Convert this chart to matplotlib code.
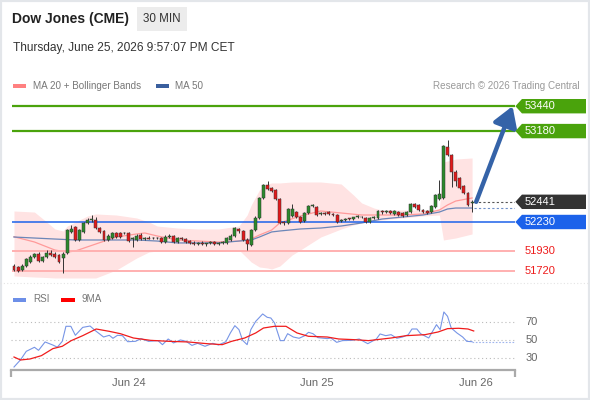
import matplotlib
matplotlib.use("Agg")
import matplotlib.pyplot as plt
from matplotlib.patches import Rectangle, Polygon, FancyArrowPatch
from matplotlib.lines import Line2D

plt.rcParams["font.family"] = ["Liberation Sans", "DejaVu Sans"]

# 30 min candles
opens = [51770, 51760, 51730, 51770, 51815, 51860, 51895, 51825, 51860, 51910,
         51900, 51880, 51850, 51906, 52130, 52175, 52042, 52126, 52220, 52250,
         52251, 52170, 52140, 52042, 52063, 52115, 52120, 52110, 52115, 52050,
         52042, 52094, 52055, 52065, 52058, 52066, 52063, 52021, 52073, 52080,
         52021, 52060, 52052, 52030, 52011, 52000, 52015, 51998, 52008, 52020,
         51995, 52015, 52011, 52042, 52084, 52157, 52136, 52042, 51990, 52146,
         52272, 52481, 52617, 52585, 52564, 52470, 52225, 52220, 52290, 52334,
         52282, 52240, 52324, 52397, 52387, 52310, 52320, 52334, 52314, 52303,
         52240, 52250, 52262, 52265, 52280, 52285, 52272, 52230, 52272, 52272,
         52345, 52330, 52345, 52314, 52334, 52324, 52303, 52334, 52418, 52408,
         52355, 52345, 52334, 52387, 52470, 52481, 53015, 52930, 52752, 52690,
         52606, 52533, 52430]
highs = [51790, 51775, 51790, 51855, 51880, 51905, 51915, 51875, 51935, 51940,
         51915, 51895, 51920, 52160, 52200, 52190, 52160, 52230, 52270, 52300,
         52280, 52180, 52150, 52100, 52130, 52125, 52130, 52130, 52125, 52075,
         52100, 52110, 52075, 52080, 52075, 52078, 52075, 52090, 52100, 52095,
         52075, 52070, 52060, 52040, 52030, 52025, 52030, 52015, 52030, 52030,
         52025, 52035, 52070, 52100, 52180, 52170, 52145, 52060, 52160, 52290,
         52490, 52630, 52658, 52600, 52575, 52480, 52240, 52375, 52418, 52350,
         52295, 52335, 52410, 52420, 52400, 52330, 52335, 52345, 52325, 52315,
         52260, 52270, 52275, 52285, 52300, 52295, 52285, 52285, 52290, 52360,
         52360, 52355, 52355, 52360, 52345, 52335, 52345, 52430, 52430, 52420,
         52365, 52355, 52410, 52525, 52669, 53035, 53087, 52945, 52770, 52700,
         52620, 52545, 52460]
lows = [51715, 51705, 51720, 51760, 51805, 51850, 51810, 51810, 51850, 51875,
        51850, 51800, 51697, 51895, 52120, 52030, 52030, 52115, 52210, 52235,
        52155, 52115, 52030, 52030, 52055, 52060, 52065, 52100, 52020, 51970,
        52035, 52040, 52045, 52050, 52048, 52050, 52010, 52015, 52065, 52010,
        52015, 52045, 52010, 51995, 51990, 51985, 51990, 51980, 51995, 51985,
        51985, 52000, 52000, 52035, 52075, 52120, 52030, 51937, 51980, 52140,
        52260, 52470, 52565, 52545, 52460, 52210, 52195, 52205, 52280, 52270,
        52215, 52230, 52315, 52385, 52290, 52300, 52305, 52305, 52295, 52220,
        52225, 52240, 52250, 52255, 52270, 52270, 52215, 52220, 52260, 52265,
        52315, 52320, 52315, 52305, 52295, 52280, 52295, 52325, 52380, 52345,
        52325, 52315, 52325, 52380, 52460, 52470, 52920, 52600, 52610, 52575,
        52520, 52395, 52334]
closes = [51728, 51718, 51775, 51843, 51864, 51895, 51822, 51860, 51910, 51885,
          51860, 51812, 51900, 52146, 52160, 52042, 52146, 52220, 52251, 52262,
          52167, 52126, 52042, 52084, 52115, 52073, 52073, 52120, 52031, 52060,
          52084, 52052, 52065, 52055, 52066, 52058, 52021, 52073, 52084, 52021,
          52063, 52052, 52021, 52011, 52000, 52015, 51995, 52008, 52020, 51995,
          52015, 52025, 52063, 52084, 52167, 52136, 52042, 52000, 52146, 52272,
          52481, 52617, 52575, 52555, 52470, 52220, 52215, 52366, 52370, 52282,
          52230, 52324, 52397, 52405, 52303, 52320, 52315, 52314, 52303, 52230,
          52255, 52262, 52260, 52280, 52290, 52278, 52230, 52272, 52278, 52345,
          52330, 52345, 52325, 52345, 52303, 52293, 52334, 52418, 52387, 52355,
          52334, 52324, 52397, 52512, 52522, 53024, 52930, 52752, 52658, 52585,
          52533, 52408, 52441]

# Bollinger bands (MA 20)
band_idx = [0, 5, 8, 10, 12, 13, 15, 18, 20, 25, 30, 33, 35, 40, 45, 50, 55, 57, 58,
            60, 62, 63, 65, 68, 70, 75, 80, 83, 85, 88, 90, 95, 100, 104, 105, 108, 112]
band_upper = [52345, 52334, 52230, 52157, 52136, 52188, 52230, 52293, 52314, 52303,
              52272, 52230, 52188, 52167, 52157, 52157, 52188, 52303, 52408, 52564,
              52627, 52638, 52638, 52648, 52648, 52648, 52627, 52512, 52429, 52376,
              52355, 52355, 52355, 52366, 52857, 52888, 52899]
band_lower = [51666, 51655, 51650, 51645, 51645, 51645, 51645, 51645, 51645, 51728,
              51854, 51916, 51927, 51927, 51927, 51927, 51937, 51854, 51812, 51760,
              51749, 51739, 51770, 51885, 51937, 52073, 52157, 52199, 52220, 52240,
              52251, 52272, 52293, 52303, 52042, 52063, 52105]
ma20_idx = [0, 5, 10, 13, 15, 20, 25, 30, 32, 35, 40, 45, 50, 55, 58, 60, 63, 65, 70,
            75, 80, 85, 90, 95, 100, 104, 106, 108, 112]
ma20 = [52076, 52021, 51937, 51916, 51927, 52000, 52073, 52105, 52115, 52084, 52042,
        52031, 52021, 52031, 52052, 52094, 52146, 52220, 52293, 52345, 52324, 52303,
        52303, 52303, 52314, 52355, 52408, 52449, 52481]
ma50_idx = [0, 10, 15, 20, 30, 35, 40, 45, 50, 55, 58, 60, 63, 65, 70, 75, 80, 85, 90,
            95, 100, 104, 106, 108, 112]
ma50 = [52073, 52052, 52042, 52042, 52042, 52031, 52011, 52011, 52011, 52031, 52042,
        52073, 52126, 52136, 52157, 52167, 52188, 52220, 52261, 52282, 52303, 52334,
        52366, 52376, 52376]

# support / resistance levels
resistances = [53440, 53180]
pivot = 52230
supports = [51930, 51720]

# RSI panel
rsi_idx = [0, 1.6, 3, 5, 6, 7.6, 9.5, 10.6, 11.8, 12.7, 13.9, 15, 16.8, 18.6, 19.8,
           21.9, 23.3, 24.2, 25.3, 26.5, 27.8, 29.7, 31.1, 32.9, 35.2, 36.3, 37.7, 39,
           40.7, 42.1, 43.5, 44.9, 46.7, 48.6, 50, 51.8, 52.9, 54, 55, 55.9, 57, 57.9,
           59.1, 60.8, 61.9, 62.8, 63.7, 65.1, 66, 66.9, 68.3, 69.7, 71.1, 72, 73.1,
           74.3, 76.6, 77.5, 78.9, 80.3, 82.6, 84.4, 86.5, 88.6, 89.5, 90.9, 92.2,
           93.6, 95, 96.4, 97.3, 98.5, 99.4, 101.4, 103.3, 104.2, 105.1, 106, 106.9,
           108.3, 109.7, 110.7, 112]
rsi = [20, 28, 37.4, 41.9, 38.5, 47.8, 44.4, 42, 48.5, 65.2, 65.2, 55.2, 64, 65.5, 60.7,
       53.3, 55.2, 51.9, 55.2, 54.8, 48.1, 48.5, 51.5, 48.5, 49.3, 44.8, 51.1, 46.7,
       50, 48.5, 44, 46.3, 43, 46.3, 44.4, 48.1, 57.8, 65.9, 61.5, 49.6, 44.8, 61.5,
       70.7, 78.9, 75.2, 74.4, 68.9, 49.3, 49.3, 57, 53.3, 51.9, 54.8, 58.5, 57, 52.6,
       51.5, 52.2, 47.4, 49.3, 49.6, 51.1, 45.9, 51.1, 56.7, 54.8, 55.9, 51.9, 53.3,
       55.9, 62.2, 62.2, 57, 52.2, 67, 61.5, 81.1, 76.3, 63.3, 57.8, 53.3, 48.5, 48.1]
rsi_ma_idx = [0, 1.6, 3.9, 6.7, 9.5, 11.8, 14, 16.8, 20.1, 23.3, 26, 29.2, 33.4, 37.9,
              42.6, 47.2, 50.9, 53.2, 56.4, 59.1, 61, 63.7, 66.5, 69.2, 72, 76.6, 79.4,
              83, 86.7, 92.2, 95.9, 100.5, 103.7, 106, 108.7, 111, 112.4]
rsi_ma = [31.1, 27.8, 28.9, 32.6, 40.4, 43, 49.3, 54.8, 62.2, 59.6, 57, 52.2, 49.6,
          48.5, 47.8, 45.9, 44.8, 48.5, 52.2, 57.8, 63.3, 65.2, 65.2, 57.8, 54.1, 53.3,
          51.1, 50.4, 49.3, 52.2, 54.8, 55.9, 58.9, 62.6, 63, 62.2, 60]
rsi_levels = [70, 50, 30]

day_labels = ["Jun 24", "Jun 25", "Jun 26"]
day_starts = [28, 74, 113]

GREEN = "#4aa30c"
BLUE = "#1c62ea"
PINK = "#ffb0b0"
RED_TXT = "#ee1c1c"
GRAY = "#777777"

W, H = 590, 400
fig = plt.figure(figsize=(W / 100, H / 100), dpi=100)


def fx(x):
    return x / W


def fy(y):
    return 1 - y / H


# header
fig.text(fx(12), fy(19), "Dow Jones (CME)", fontsize=10, weight="bold",
         color="#222222", va="center")
fig.add_artist(Rectangle((fx(137), fy(31)), fx(50), 24 / H, transform=fig.transFigure,
                         facecolor="#ececec", edgecolor="none"))
fig.text(fx(162), fy(19), "30 MIN", fontsize=8.4, color="#333333", ha="center", va="center")
fig.text(fx(13), fy(48), "Thursday, June 25, 2026 9:57:07 PM CET", fontsize=8.6,
         color="#333333", va="center")

fig.add_artist(Rectangle((fx(13), fy(88)), fx(13), 4 / H, transform=fig.transFigure,
                         facecolor="#ff8080", edgecolor="none"))
fig.text(fx(33), fy(86), "MA 20 + Bollinger Bands", fontsize=7.1, color=GRAY, va="center")
fig.add_artist(Rectangle((fx(156), fy(88)), fx(13), 4 / H, transform=fig.transFigure,
                         facecolor="#3a5f9e", edgecolor="none"))
fig.text(fx(175), fy(86), "MA 50", fontsize=7.1, color=GRAY, va="center")
fig.text(fx(580), fy(86), "Research \u00a9 2026 Trading Central", fontsize=7.1,
         color="#999999", ha="right", va="center")

# price panel
ax = fig.add_axes([fx(12), fy(282), fx(503), 187 / H])
px_per_bar = 4.09
ax.set_xlim(-2 / px_per_bar, 501 / px_per_bar)
ax.set_ylim(51603, 53557)
ax.axis("off")

ax.fill_between(band_idx, band_lower, band_upper, color="#ffe3e3", lw=0, zorder=1)
ax.plot(ma20_idx, ma20, color="#ff9a9a", lw=0.9, zorder=2)
ax.plot(ma50_idx, ma50, color="#6c86b8", lw=0.9, zorder=2)

for lv in resistances:
    ax.axhline(lv, color=GREEN, lw=1.6, zorder=3)
ax.axhline(pivot, color=BLUE, lw=1.1, zorder=3)
for lv in supports:
    ax.axhline(lv, color=PINK, lw=1.4, zorder=3)

n = len(closes)
xs = list(range(n))
ax.vlines(xs, lows, highs, color="#333333", lw=0.7, zorder=4)
bottoms = [min(o, c) for o, c in zip(opens, closes)]
heights = [max(abs(c - o), 9) for o, c in zip(opens, closes)]
colors = ["#2c8a2c" if c >= o else "#e2191b" for o, c in zip(opens, closes)]
ax.bar(xs, heights, bottom=bottoms, width=0.72, color=colors, edgecolor="#333333",
       lw=0.35, zorder=5)

# last price / ma50 dotted guides
x_end = 501 / px_per_bar
ax.plot([n - 0.5, x_end], [closes[-1], closes[-1]], color="#555555", lw=0.8,
        ls=(0, (2, 2)), zorder=3)
ax.plot([n - 0.5, x_end], [ma50[-1], ma50[-1]], color="#7090c8", lw=0.8,
        ls=(0, (2, 2)), zorder=3)

# forecast arrow
arrow = FancyArrowPatch((n, closes[-1]), (x_end - 0.6, resistances[0]),
                        arrowstyle="-|>,head_length=5.5,head_width=3.4",
                        color="#3563a8", lw=3.2, mutation_scale=2.2, zorder=6,
                        clip_on=False, shrinkA=0, shrinkB=0)
ax.add_patch(arrow)

# right side labels
tip = 1.7
box_right = 572 / px_per_bar
half = 7.2 * 10.45
tx = 511 / px_per_bar


def tag(price, face):
    if face is None:
        ax.text(tx, price, f"{price}", color=RED_TXT, fontsize=8, va="center",
                ha="left", clip_on=False, zorder=7)
        return
    pts = [(x_end + 0.1, price), (x_end + tip, price + half), (box_right, price + half),
           (box_right, price - half), (x_end + tip, price - half)]
    ax.add_patch(Polygon(pts, closed=True, facecolor=face, edgecolor="none",
                         clip_on=False, zorder=6))
    ax.text(tx, price, f"{price}", color="white", fontsize=8, va="center",
            ha="left", clip_on=False, zorder=7)


for lv in resistances:
    tag(lv, GREEN)
tag(closes[-1], "#333333")
tag(pivot, BLUE)
for lv in supports:
    tag(lv, None)

# separator
fig.add_artist(Line2D([0, 1], [fy(283), fy(283)], transform=fig.transFigure,
                      color="#e4e4e4", lw=0.8, ls=(0, (1, 2))))

# RSI panel
fig.add_artist(Rectangle((fx(13), fy(302)), fx(13), 4 / H, transform=fig.transFigure,
                         facecolor="#6d8fe8", edgecolor="none"))
fig.text(fx(33), fy(299), "RSI", fontsize=7.1, color=GRAY, va="center")
fig.add_artist(Rectangle((fx(61), fy(302)), fx(14), 4 / H, transform=fig.transFigure,
                         facecolor="#ff0000", edgecolor="none"))
fig.text(fx(82), fy(299), "9MA", fontsize=7.1, color=GRAY, va="center")

ax2 = fig.add_axes([fx(11), fy(370), fx(504), 70 / H])
ax2.set_xlim(-3 / px_per_bar, 501 / px_per_bar)
ax2.set_ylim(16.67, 94.4)
for s in ["top", "right", "left"]:
    ax2.spines[s].set_visible(False)
ax2.spines["bottom"].set_color("#aaaaaa")
ax2.spines["bottom"].set_linewidth(1.6)
ax2.set_yticks([])
for lv in rsi_levels:
    ax2.axhline(lv, color="#bbbbbb", lw=0.8, ls=(0, (1, 2.5)))
    ax2.text(125, lv, str(lv), color="#666666", fontsize=8, va="center", ha="left",
             clip_on=False)
ax2.plot(rsi_idx, rsi, color="#7795e6", lw=0.8)
ax2.plot(rsi_ma_idx, rsi_ma, color="#f01c1c", lw=0.9)
ax2.plot([rsi_idx[-1], x_end], [rsi[-1], rsi[-1]], color="#9fb5ee", lw=0.8,
         ls=(0, (1.5, 1.5)))
ax2.set_xticks(day_starts)
ax2.set_xticklabels(day_labels, fontsize=8, color="#666666")
ax2.tick_params(axis="x", length=0, pad=6)
ax2.set_xticks([-3 / px_per_bar, x_end], minor=True)
ax2.tick_params(axis="x", which="minor", length=5, width=1.6, color="#aaaaaa")

# card border
fig.add_artist(Rectangle((0, 0), 1, 1, transform=fig.transFigure, fill=False,
                         edgecolor="#e3e6ea", lw=3))

fig.savefig("out.png", dpi=100)
